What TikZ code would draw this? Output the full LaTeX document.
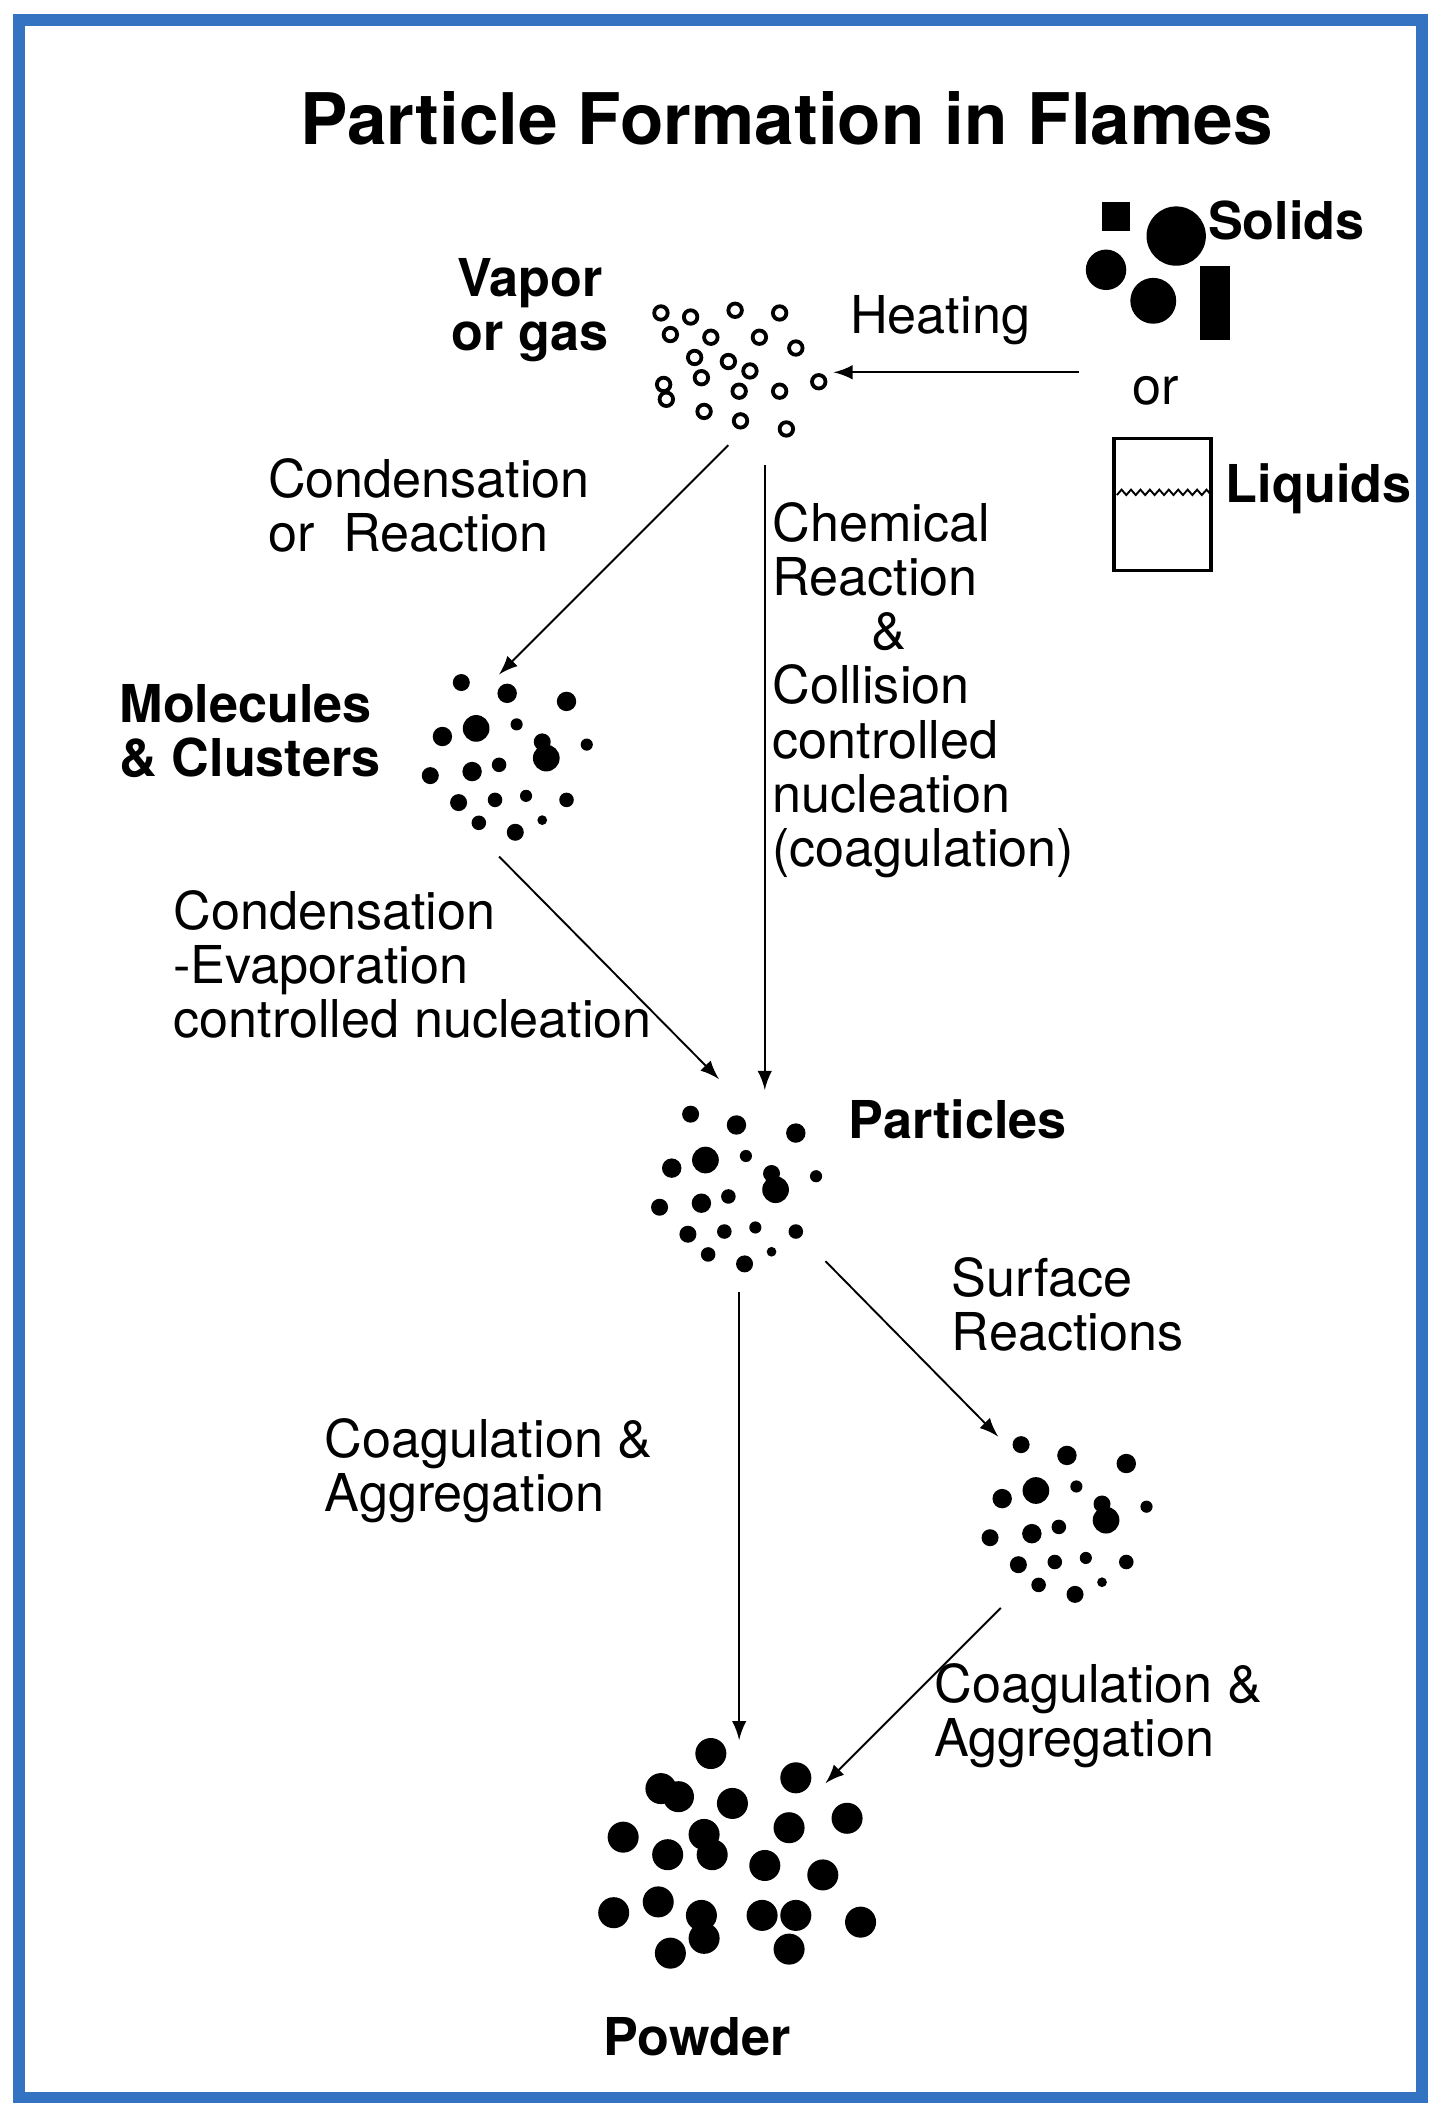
\documentclass[tikz,border=0pt]{standalone}
\usepackage{fontspec}
\setmainfont{TeX Gyre Heros}
\usetikzlibrary{positioning}
\usetikzlibrary{arrows}

\begin{document}
\begin{tikzpicture}[x=0.01cm,y=-0.01cm]
\tikzstyle{lbl} = [font=\fontsize{11}{11.4}\selectfont, align=left, inner sep=0pt]
\tikzstyle{bold} = [font=\fontsize{11}{11.4}\selectfont\bfseries, inner sep=0pt]
\tikzstyle{flow} = [-latex, thin]
\newcommand{\cluster}[2]{%
\foreach \dx/\dy/\r in {-33/-54/7, 1/-46/8, 45/-40/8, -47/-14/8, -22/-20/11, 8/-23/5,
 30/2/11, 27/-10/7, 60/-8/5, -56/15/7, -25/12/8, -5/7/6, -35/35/7, -8/33/6,
 15/30/5, 45/33/6, -20/50/6, 7/57/7, 27/48/4} {
\fill (#1+\dx,#2+\dy) circle (\r*0.9);
}}

\useasboundingbox (0,0) rectangle (1068,1568);
\draw[line width=2.5pt, blue!55!cyan!70!black!80] (14,15) rectangle (1054,1555);

\node[font=\fontsize{15}{16}\selectfont\bfseries] (title) at (583,88) {Particle Formation in Flames};

% source
\fill (817,150) rectangle (838,171);
\fill (872,175) circle (22);
\fill (820,200) circle (15);
\fill (855,223) circle (17);
\fill (890,197) rectangle (912,252);
\node[bold, anchor=west] (solids) at (895,163) {Solids};
\node[lbl] (or) at (857,290) {or};
\draw[thick] (826,325) rectangle (898,423);
\draw (828,367) \foreach \i in {0,...,9} { -- ++(3.5,-4) -- ++(3.5,4) };
\node[bold, anchor=west] (liquids) at (908,362) {Liquids};

% vapor
\foreach \x/\y in {490/232, 512/235, 545/230, 578/232, 497/248, 527/250, 563/250,
 515/265, 540/268, 556/275, 590/258, 492/285, 520/280, 548/290, 578/290, 607/283,
 494/296, 522/305, 549/312, 583/318}
 \draw[thick] (\x,\y) circle (5);
\node[bold, align=center] (vapor) at (393,230) {Vapor\\or gas};
\node[lbl] (heating) at (697,237) {Heating};

\cluster{375}{560}
\cluster{545}{880}
\cluster{790}{1125}
\node[bold, align=left, anchor=west] (molecules) at (88,542) {Molecules\\\& Clusters};
\node[bold] (particles) at (710,830) {Particles};

% powder
\foreach \x/\y in {527/1300, 590/1318, 490/1326, 503/1332, 543/1337, 628/1348, 462/1362,
 522/1360, 585/1355, 495/1375, 528/1375, 567/1383, 610/1390, 488/1410, 455/1418, 520/1420,
 565/1420, 590/1420, 638/1425, 522/1437, 497/1448, 585/1445}
 \fill (\x,\y) circle (11.5);
\node[bold] (powder) at (517,1510) {Powder};

% arrows
\coordinate (h1) at (800,276); \coordinate (h2) at (618,276);
\coordinate (v1) at (540,330); \coordinate (v2) at (370,500);
\coordinate (c1) at (567,345); \coordinate (c2) at (567,808);
\coordinate (m1) at (370,635); \coordinate (m2) at (533,800);
\coordinate (p1) at (548,958); \coordinate (p2) at (548,1290);
\coordinate (s1) at (612,935); \coordinate (s2) at (740,1065);
\coordinate (a1) at (742,1192); \coordinate (a2) at (612,1322);
\foreach \a/\b in {h1/h2, v1/v2, c1/c2, m1/m2, p1/p2, s1/s2, a1/a2}
 \draw[flow] (\a) -- (\b);

\node[lbl, anchor=west] (condreac) at (198,375) {Condensation\\or\ \ Reaction};
\node[lbl, anchor=north west] (chem) at (572,372) {Chemical\\Reaction\\\hspace*{1.9em}\&\\Collision\\controlled\\nucleation\\(coagulation)};
\node[lbl, anchor=west] (condevap) at (128,715) {Condensation\\-Evaporation\\controlled nucleation};
\node[lbl, anchor=west] (surface) at (705,967) {Surface\\Reactions};
\node[lbl, anchor=west] (coag1) at (240,1090) {Coagulation \&\\Aggregation};
\node[lbl, anchor=west] (coag2) at (692,1272) {Coagulation \&\\Aggregation};
\end{tikzpicture}
\end{document}
